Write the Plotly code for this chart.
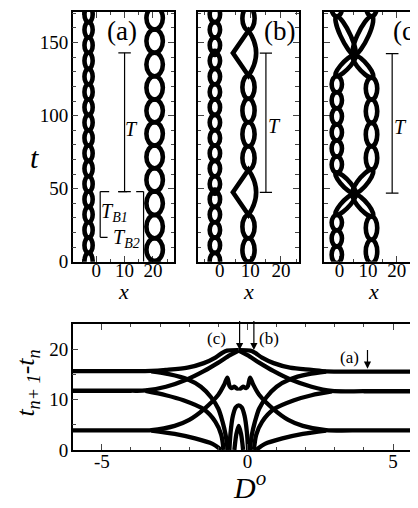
import plotly.graph_objects as go

W, H = 418, 508
SERIF = "Liberation Serif, Times New Roman, Times, serif"

def px_x(p):
    return p / W

def px_y(p):
    return (H - p) / H

# ---------------- data: top panels (space-time patterns) ----------------
# panel (a)
a_left_x = -2.7
a_left_w = 1.45
a_left_nodes = [-5, 6, 16.5, 27, 37.5, 48, 58.5, 69, 79.5, 90, 100.5, 111, 121.5, 132, 143, 153.5, 164, 174.5]
a_right_x = 20.6
a_right_w = 2.9
a_right_nodes = [-15, 0.5, 16, 32, 48, 64, 79.5, 95.5, 111, 127, 143, 159, 174.5]

# panel (b)
b_left_x = -1.6
b_left_w = 1.7
b_left_nodes = [-4.5, 6, 16.5, 27, 37.5, 48, 58.5, 69, 79.5, 90, 100.5, 111, 121.5, 132, 143, 153.5, 164, 174.5]
b_left_rings = [48, 143]
b_right_x = 9.4
b_right_w = 2.0
b_right_nodes = [-16, 0, 16, 32, None, 63, 79, 95.5, 111.5, 127.5, None, 158.5, 174.5]
b_kite_centers = [47.5, 142.8]
b_kite_left_x = 4.3
b_kite_right_ctrl = 14.4
b_kite_half = 15.5

# panel (c)
c_left_x = -0.9
c_left_w = 1.8
c_right_x = 11.2
c_right_w = 2.0
c_cross_x = 5.2
c_cross_t = [46.5, 141.5]
c_left_nodes = [-1, 10.5, 21.5, 32, "X", 61, 72, 83, 94, 105, 116, 127, "X", 168, 179]
c_right_nodes = [-1, 15, 31, "X", 63, 79, 95, 111, 126, "X", 168, 184]

# ---------------- data: brackets ----------------
a_T = dict(x=10.0, t0=48, t1=143, cap=2.2)
a_TB1 = dict(x=1.4, t0=16.7, t1=48, cap=2.6)
a_TB2 = dict(x=16.7, t0=0, t1=48)
b_T = dict(x=15.1, t0=47.5, t1=142.8, cap=2.0)
c_T = dict(x=18.4, t0=47, t1=142.5, cap=2.2)

# ---------------- data: bottom panel curves (D, t_{n+1}-t_n) ----------------
curve_top_left_D = [-6.0, -4.0, -3.3, -2.8, -2.06, -1.5, -1.1, -0.85, -0.7, -0.3]
curve_top_left_t = [15.7, 15.7, 15.75, 15.95, 16.4, 17.3, 18.4, 19.4, 19.8, 19.9]
curve_top_right_D = [6.05, 4.0, 2.7, 2.2, 1.46, 0.9, 0.5, 0.25, 0.1, -0.3]
curve_top_right_t = [15.6, 15.6, 15.65, 15.95, 16.4, 17.3, 18.4, 19.4, 19.8, 19.9]

curve_topdown_left_D = [-3.3, -2.7, -2.06, -1.6, -1.25, -1.0, -0.85, -0.75, -0.68]
curve_topdown_left_t = [15.65, 15.1, 14.1, 12.6, 10.5, 8.2, 5.5, 3.0, 0.0]
curve_topdown_right_D = [2.7, 2.1, 1.46, 1.0, 0.65, 0.4, 0.25, 0.15, 0.08]
curve_topdown_right_t = [15.6, 15.1, 14.1, 12.6, 10.5, 8.2, 5.5, 3.0, 0.0]

curve_mid_left_D = [-6.0, -4.0, -3.5, -2.8, -2.06, -1.5, -1.0, -0.6, -0.3]
curve_mid_left_t = [11.8, 11.8, 11.85, 12.6, 14.1, 15.7, 17.4, 18.9, 19.8]
curve_mid_right_D = [6.05, 4.0, 2.9, 2.2, 1.46, 0.9, 0.4, 0.0, -0.3]
curve_mid_right_t = [11.7, 11.7, 11.75, 12.6, 14.1, 15.7, 17.4, 18.9, 19.8]

curve_middown_left_D = [-3.5, -2.8, -2.2, -1.5, -1.1, -0.9, -0.82]
curve_middown_left_t = [11.75, 10.9, 9.9, 8.1, 5.6, 3.0, 0.0]
curve_middown_right_D = [2.9, 2.2, 1.6, 0.9, 0.5, 0.3, 0.22]
curve_middown_right_t = [11.65, 10.9, 9.9, 8.1, 5.6, 3.0, 0.0]

curve_bot_left_D = [-6.0, -4.0, -3.3, -2.5, -2.0, -1.5, -1.0, -0.8, -0.69, -0.62, -0.55, -0.45, -0.35, -0.3]
curve_bot_left_t = [3.9, 3.9, 3.95, 4.8, 6.0, 8.1, 11.0, 13.0, 14.4, 12.8, 12.3, 12.6, 12.2, 12.4]
curve_bot_right_D = [6.05, 4.0, 2.7, 1.9, 1.4, 0.9, 0.4, 0.2, 0.09, 0.02, -0.05, -0.15, -0.25, -0.3]
curve_bot_right_t = [3.9, 3.9, 3.95, 4.8, 6.0, 8.1, 11.0, 13.0, 14.4, 12.8, 12.3, 12.6, 12.2, 12.4]

curve_botdown_left_D = [-3.3, -2.5, -1.8, -1.2, -0.9]
curve_botdown_left_t = [3.85, 3.2, 2.3, 1.2, 0.0]
curve_botdown_right_D = [2.7, 1.9, 1.2, 0.6, 0.3]
curve_botdown_right_t = [3.85, 3.2, 2.3, 1.2, 0.0]

curve_arch_D = [-0.62, -0.58, -0.5, -0.4, -0.3, -0.2, -0.1, -0.02, 0.02]
curve_arch_t = [0.0, 3.5, 6.8, 8.5, 8.9, 8.5, 6.8, 3.5, 0.0]
curve_inner_D = [-0.45, -0.38, -0.3, -0.22, -0.15]
curve_inner_t = [0.0, 3.2, 4.8, 3.2, 0.0]

arrow_D = {"(c)": -0.27, "(b)": 0.22, "(a)": 4.12}
arrow_tip = {"(c)": 19.9, "(b)": 19.9, "(a)": 16.2}
arrow_tail = {"(c)": 26.0, "(b)": 26.0, "(a)": 20.2}

fig = go.Figure()
shapes = []
annotations = []
BEAD_LW = 4.6


def bead_path(x1, t1, x2, t2, w):
    cx, ct = (x1 + x2) / 2, (t1 + t2) / 2
    vx, vt = (x2 - x1) / 2, (t2 - t1) / 2
    ux, ut = w, 0.0
    k = 0.5523
    P0 = (cx + ux, ct + ut)
    P1 = (cx + vx, ct + vt)
    P2 = (cx - ux, ct - ut)
    P3 = (cx - vx, ct - vt)
    def f(p):
        return f"{p[0]:.3f},{p[1]:.3f}"
    segs = [
        f"M{f(P0)}",
        f"C{f((P0[0]+k*vx, P0[1]+k*vt))} {f((P1[0]+k*ux, P1[1]+k*ut))} {f(P1)}",
        f"C{f((P1[0]-k*ux, P1[1]-k*ut))} {f((P2[0]+k*vx, P2[1]+k*vt))} {f(P2)}",
        f"C{f((P2[0]-k*vx, P2[1]-k*vt))} {f((P3[0]-k*ux, P3[1]-k*ut))} {f(P3)}",
        f"C{f((P3[0]+k*ux, P3[1]+k*ut))} {f((P0[0]-k*vx, P0[1]-k*vt))} {f(P0)}",
        "Z",
    ]
    return " ".join(segs)


def add_bead(xr, yr, x1, t1, x2, t2, w, lw=BEAD_LW):
    shapes.append(dict(type="path", xref=xr, yref=yr, path=bead_path(x1, t1, x2, t2, w),
                       line=dict(color="black", width=lw), layer="above"))


def add_chain(xr, yr, xc, nodes, w, cross_x=None, cross_t=None):
    pts = []
    ci = 0
    for n in nodes:
        if n == "X":
            pts.append((cross_x, cross_t[ci]))
            ci += 1
        elif n is None:
            pts.append(None)
        else:
            pts.append((xc, n))
    for p, q in zip(pts[:-1], pts[1:]):
        if p is None or q is None:
            continue
        add_bead(xr, yr, p[0], p[1], q[0], q[1], w)


add_chain("x", "y", a_left_x, a_left_nodes, a_left_w)
add_chain("x", "y", a_right_x, a_right_nodes, a_right_w)

add_chain("x2", "y2", b_left_x, b_left_nodes, b_left_w)
add_chain("x2", "y2", b_right_x, b_right_nodes, b_right_w)
for tc in b_kite_centers:
    t0, t1 = tc - b_kite_half, tc + b_kite_half
    path = (f"M{b_right_x},{t0} L{b_kite_left_x},{tc} L{b_right_x},{t1} "
            f"Q{b_kite_right_ctrl},{tc} {b_right_x},{t0} Z")
    shapes.append(dict(type="path", xref="x2", yref="y2", path=path,
                       line=dict(color="black", width=BEAD_LW), layer="above"))
for tr in b_left_rings:
    shapes.append(dict(type="circle", xref="x2", yref="y2", x0=b_left_x - 1.0, x1=b_left_x + 1.0,
                       y0=tr - 2.0, y1=tr + 2.0, line=dict(color="black", width=3), layer="above"))

add_chain("x3", "y3", c_left_x, c_left_nodes, c_left_w, c_cross_x, c_cross_t)
add_chain("x3", "y3", c_right_x, c_right_nodes, c_right_w, c_cross_x, c_cross_t)
for tc in c_cross_t:
    shapes.append(dict(type="circle", xref="x3", yref="y3", x0=c_cross_x - 1.2, x1=c_cross_x + 1.2,
                       y0=tc - 2.4, y1=tc + 2.4, line=dict(color="black", width=3), layer="above"))


def vline(xr, yr, x, t0, t1, dash="solid"):
    shapes.append(dict(type="line", xref=xr, yref=yr, x0=x, x1=x, y0=t0, y1=t1,
                       line=dict(color="black", width=1.2, dash=dash), layer="above"))


def hline(xr, yr, x0, x1, t, dash="solid"):
    shapes.append(dict(type="line", xref=xr, yref=yr, x0=x0, x1=x1, y0=t, y1=t,
                       line=dict(color="black", width=1.2, dash=dash), layer="above"))


for (xr, yr, br) in [("x", "y", a_T), ("x2", "y2", b_T), ("x3", "y3", c_T)]:
    vline(xr, yr, br["x"], br["t0"], br["t1"])
    hline(xr, yr, br["x"] - br["cap"], br["x"] + br["cap"], br["t1"])
    hline(xr, yr, br["x"] - br["cap"], br["x"] + br["cap"], br["t0"])

vline("x", "y", a_TB1["x"], a_TB1["t0"], a_TB1["t1"])
hline("x", "y", a_TB1["x"], a_TB1["x"] + a_TB1["cap"], a_TB1["t0"])
vline("x", "y", a_TB2["x"], a_TB2["t0"], a_TB2["t1"])
hline("x", "y", a_TB1["x"], a_TB2["x"], a_TB1["t1"], dash="dash")

# ---------------- bottom panel traces ----------------
curves = [
    (curve_top_left_D, curve_top_left_t), (curve_top_right_D, curve_top_right_t),
    (curve_topdown_left_D, curve_topdown_left_t), (curve_topdown_right_D, curve_topdown_right_t),
    (curve_mid_left_D, curve_mid_left_t), (curve_mid_right_D, curve_mid_right_t),
    (curve_middown_left_D, curve_middown_left_t), (curve_middown_right_D, curve_middown_right_t),
    (curve_bot_left_D, curve_bot_left_t), (curve_bot_right_D, curve_bot_right_t),
    (curve_botdown_left_D, curve_botdown_left_t), (curve_botdown_right_D, curve_botdown_right_t),
    (curve_arch_D, curve_arch_t), (curve_inner_D, curve_inner_t),
]
for d, t in curves:
    fig.add_trace(go.Scatter(x=d, y=t, mode="lines", xaxis="x4", yaxis="y4",
                             line=dict(color="black", width=4.3, shape="spline", smoothing=0.8),
                             showlegend=False, hoverinfo="skip"))

for lab in ["(c)", "(b)", "(a)"]:
    annotations.append(dict(x=arrow_D[lab], y=arrow_tip[lab], ax=arrow_D[lab], ay=arrow_tail[lab],
                            xref="x4", yref="y4", axref="x4", ayref="y4", showarrow=True,
                            arrowhead=2, arrowsize=1.2, arrowwidth=1.2, arrowcolor="black", text=""))

# ---------------- axes ----------------
tickfont = dict(family=SERIF, size=19, color="black")
common = dict(showline=True, linecolor="black", linewidth=1.5, mirror="ticks", ticks="inside",
              tickwidth=1.2, ticklen=6, showgrid=False, zeroline=False, tickfont=tickfont,
              fixedrange=True)

top_y0, top_y1 = px_y(259.3), px_y(4)
panels = [("xaxis", "yaxis", "y", "x", 65, 167, [-8.3, 27.5], True),
          ("xaxis2", "yaxis2", "y2", "x2", 191, 292, [-7.1, 25.8], False),
          ("xaxis3", "yaxis3", "y3", "x3", 318, 418, [-5.2, 29.5], False)]
layout = {}
for xa, ya, yanchor, xanchor, l, r, xr, showy in panels:
    layout[xa] = dict(common, domain=[px_x(l), px_x(r)], range=xr, anchor=yanchor,
                      tickvals=[0, 10, 20], ticktext=["0", "10", "20"], ticklabelstandoff=-9,
                      minor=dict(ticks="inside", ticklen=3, dtick=5, tick0=0, tickwidth=1))
    layout[ya] = dict(common, domain=[top_y0, top_y1], range=[0, 171], anchor=xanchor,
                      tickvals=[0, 50, 100, 150], showticklabels=showy, ticklabelstandoff=-1,
                      minor=dict(ticks="inside", ticklen=3.5, dtick=10, tick0=0, tickwidth=1))

layout["xaxis4"] = dict(common, domain=[px_x(65), 1.0], range=[-6.0, 6.06], anchor="y4",
                        tickvals=[-5, 0, 5], ticktext=["-5", "0", "5"], ticklabelstandoff=-6,
                        minor=dict(ticks="inside", ticklen=3.5, dtick=1, tick0=0, tickwidth=1))
layout["yaxis4"] = dict(common, domain=[px_y(451.7), px_y(323)], range=[0, 25.1], anchor="x4",
                        tickvals=[0, 10, 20], ticklabelstandoff=-1,
                        minor=dict(ticks="inside", ticklen=3.5, dtick=5, tick0=0, tickwidth=1))


def ptext(text, x, y, size, italic=False, angle=0):
    annotations.append(dict(text=text, x=px_x(x), y=px_y(y), xref="paper", yref="paper",
                            showarrow=False, xanchor="center", yanchor="middle", textangle=angle,
                            font=dict(family=SERIF, size=size, color="black",
                                      style="italic" if italic else "normal")))


ptext("t", 27, 153, 30, italic=True)
ptext("x", 116, 290, 22, italic=True)
ptext("x", 242, 290, 22, italic=True)
ptext("x", 367, 290, 22, italic=True)
ptext("(a)", 115, 23, 27)
ptext("(b)", 273, 24, 27)
ptext("(c)", 402, 24, 27)
ptext("<i>D</i><sup><i>o</i></sup>", 243, 488, 30)
ptext("<i>t</i><sub><i>n+ 1</i></sub>-<i>t</i><sub><i>n</i></sub>", 19, 383, 26, angle=-90)
ptext("(c)", 210, 338, 17)
ptext("(b)", 262, 338, 17)
ptext("(a)", 343, 357, 17)


def dtext(text, xr, yr, x, t, size=20):
    annotations.append(dict(text=text, x=x, y=t, xref=xr, yref=yr, showarrow=False,
                            xanchor="center", yanchor="middle",
                            font=dict(family=SERIF, size=size, color="black")))


dtext("<i>T</i>", "x", "y", 12.5, 91)
dtext("<i>T</i><sub><i>B1</i></sub>", "x", "y", 6.4, 34)
dtext("<i>T</i><sub><i>B2</i></sub>", "x", "y", 10.8, 16)
dtext("<i>T</i>", "x2", "y2", 17.9, 93)
dtext("<i>T</i>", "x3", "y3", 21.3, 92)

fig.update_layout(width=W, height=H, margin=dict(l=0, r=0, t=0, b=0),
                  paper_bgcolor="white", plot_bgcolor="white", showlegend=False,
                  font=dict(family=SERIF, color="black"),
                  shapes=shapes, annotations=annotations, **layout)

fig.write_html("out.html")
